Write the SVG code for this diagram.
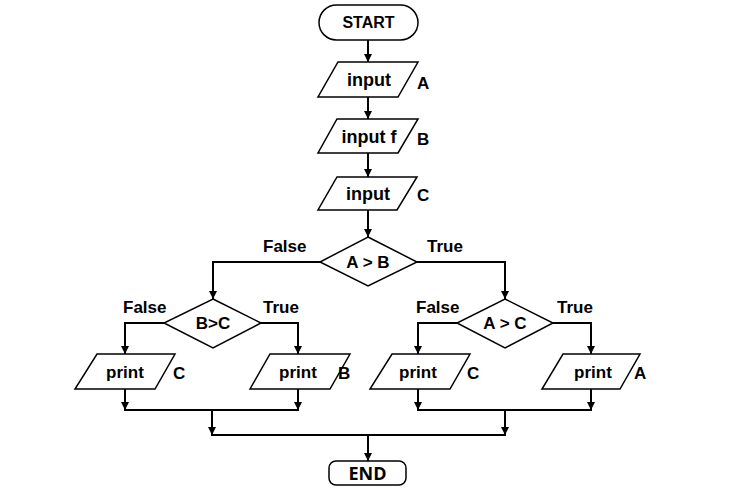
<svg xmlns="http://www.w3.org/2000/svg" width="734" height="492" viewBox="0 0 734 492">
<defs>
<marker id="arr" viewBox="0 0 10 10" refX="10" refY="5" markerWidth="8" markerHeight="8" orient="auto" markerUnits="userSpaceOnUse">
<path d="M0,0 L10,5 L0,10 z" fill="#000"/>
</marker>
</defs>
<style>
.shape{fill:#fff;stroke:#000;stroke-width:1.5}
.t{font-family:"Liberation Sans",Arial,sans-serif;font-weight:bold;font-size:17px;fill:#000}
.in{font-size:18px}
.st{font-size:16px}
.m{text-anchor:middle}
.end{font-family:"Open Sans","DejaVu Sans",sans-serif;font-weight:bold;font-size:18px;fill:#000;text-anchor:middle}
.c{fill:none;stroke:#000;stroke-width:2}
.a{marker-end:url(#arr)}
</style>
<rect width="734" height="492" fill="#fff"/>
<g id="connectors">
<path class="c a" d="M368,40 V62"/>
<path class="c a" d="M368,97 V119"/>
<path class="c a" d="M368,153 V177"/>
<path class="c a" d="M368,210 V237"/>
<path class="c a" d="M320,262 H213 V299"/>
<path class="c a" d="M417,262 H505 V299"/>
<path class="c a" d="M164,323 H125 V354"/>
<path class="c a" d="M261,323 H298 V354"/>
<path class="c a" d="M457,323 H418 V354"/>
<path class="c a" d="M553,323 H591 V354"/>
<path class="c a" d="M125,389 V410"/>
<path class="c a" d="M298,389 V410"/>
<path class="c a" d="M418,389 V410"/>
<path class="c a" d="M591,389 V410"/>
<path class="c" d="M124,410 H299"/>
<path class="c" d="M417,410 H592"/>
<path class="c a" d="M212,410 V435"/>
<path class="c a" d="M505,410 V435"/>
<path class="c" d="M211,435 H506"/>
<path class="c a" d="M368,435 V461"/>
</g>
<g id="start">
<rect class="shape" x="319" y="5" width="99" height="35" rx="17.5"/>
<text class="t st m" x="368.5" y="28">START</text>
</g>
<g id="inputA">
<polygon class="shape" points="338,62 418,62 398,97 318,97"/>
<text class="t in m" x="369" y="86">input</text>
<text class="t" x="417" y="89">A</text>
</g>
<g id="inputB">
<polygon class="shape" points="337,119 418,119 398,153 318,153"/>
<text class="t in m" x="369" y="143">input f</text>
<text class="t" x="417" y="145">B</text>
</g>
<g id="inputC">
<polygon class="shape" points="337,177 417,177 397,210 318,210"/>
<text class="t in m" x="368" y="200">input</text>
<text class="t" x="417" y="201">C</text>
</g>
<g id="decAB">
<polygon class="shape" points="368,237 417,262 368,286 320,262"/>
<text class="t m" x="368" y="268">A &gt; B</text>
<text class="t" x="263" y="252">False</text>
<text class="t" x="427" y="252">True</text>
</g>
<g id="decBC">
<polygon class="shape" points="213,299 261,323 213,348 164,323"/>
<text class="t m" x="213" y="329">B&gt;C</text>
<text class="t" x="123" y="313">False</text>
<text class="t" x="263" y="313">True</text>
</g>
<g id="decAC">
<polygon class="shape" points="505,299 553,323 505,348 457,323"/>
<text class="t m" x="505" y="329">A &gt; C</text>
<text class="t" x="416" y="313">False</text>
<text class="t" x="557" y="313">True</text>
</g>
<g id="printC1">
<polygon class="shape" points="97,354 175,354 155,389 75,389"/>
<text class="t m" x="125" y="378">print</text>
<text class="t" x="173" y="379">C</text>
</g>
<g id="printB">
<polygon class="shape" points="270,354 350,354 330,389 250,389"/>
<text class="t m" x="298" y="378">print</text>
<text class="t" x="338" y="379">B</text>
</g>
<g id="printC2">
<polygon class="shape" points="392,354 470,354 450,389 370,389"/>
<text class="t m" x="418" y="378">print</text>
<text class="t" x="467" y="379">C</text>
</g>
<g id="printA">
<polygon class="shape" points="563,354 640,354 620,389 542,389"/>
<text class="t m" x="593" y="378">print</text>
<text class="t" x="634" y="379">A</text>
</g>
<g id="end">
<rect class="shape" x="329" y="461" width="77" height="24" rx="7"/>
<text class="end" x="367.5" y="480">END</text>
</g>
</svg>
